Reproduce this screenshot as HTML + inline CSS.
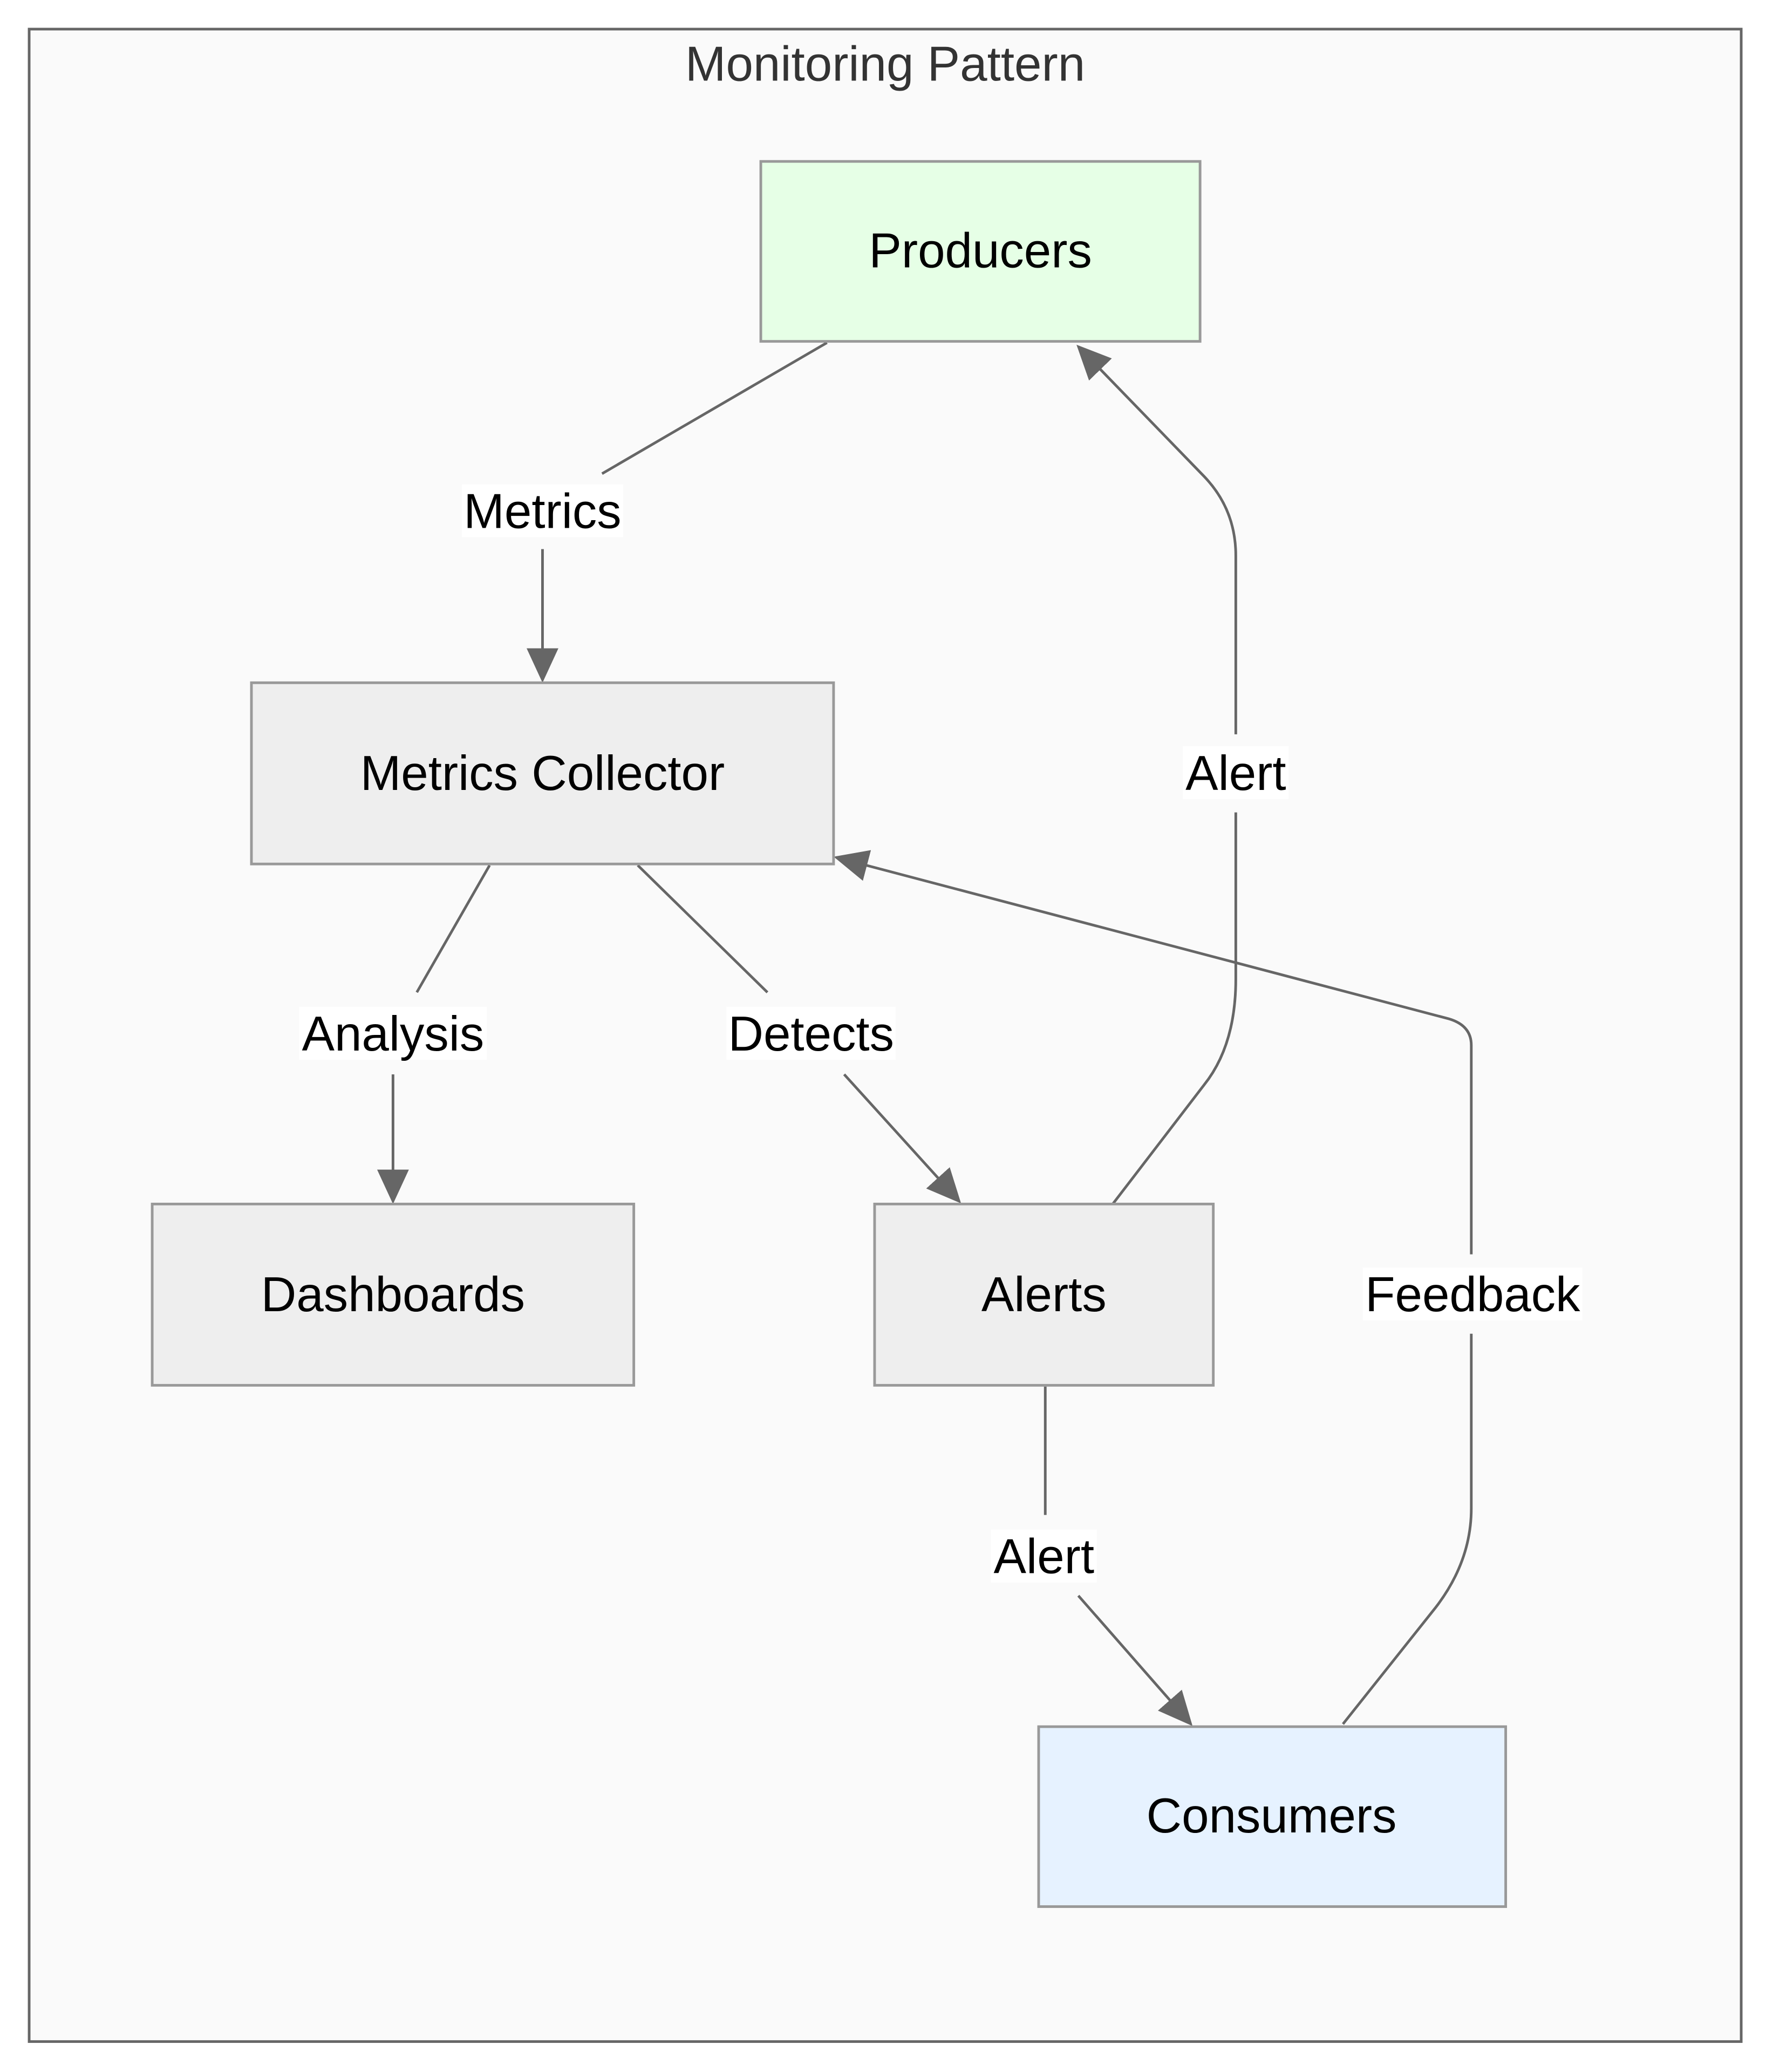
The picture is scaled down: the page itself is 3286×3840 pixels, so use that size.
<!DOCTYPE html>
<html><head><meta charset="utf-8"><style>
html,body{margin:0;padding:0;background:#fff;}
svg{display:block;}
text{font-family:"Liberation Sans",Arial,sans-serif;}
</style></head><body>
<svg width="3286" height="3840" viewBox="0 0 1340 1566" xmlns="http://www.w3.org/2000/svg">
<defs>
<marker id="b" markerWidth="26" markerHeight="26" refX="24" refY="13" orient="auto" markerUnits="userSpaceOnUse" viewBox="0 0 26 26">
<path d="M0,1 L26,13 L0,25 z" fill="#666"/>
</marker>
</defs>
<rect x="22" y="22" width="1294" height="1521" fill="#fafafa" stroke="#666" stroke-width="2"/>
<text x="669" y="61" font-size="37" fill="#333" text-anchor="middle">Monitoring Pattern</text>

<g fill="none" stroke="#666" stroke-width="2">
<path d="M625,259 L455,358"/>
<path d="M410,415 L410,514" marker-end="url(#b)"/>
<path d="M370,654 L315,750"/>
<path d="M297,812 Q297,820 297,830 L297,908" marker-end="url(#b)"/>
<path d="M482,654 L580,750"/>
<path d="M638,812 L725,908" marker-end="url(#b)"/>
<path d="M841,910 L910,820 Q934,790 934,740 L934,614"/>
<path d="M934,555 L934,420 Q934,385 910,360 L815,262" marker-end="url(#b)"/>
<path d="M1015,1303 L1085,1215 Q1112,1180 1112,1140 L1112,1008"/>
<path d="M1112,948 L1112,790 Q1112,775 1095,770 L632,648" marker-end="url(#b)"/>
<path d="M790,1048 L790,1145"/>
<path d="M815,1206 L900,1303" marker-end="url(#b)"/>
</g>

<g stroke="#999" stroke-width="2">
<rect x="575" y="122" width="332" height="136" fill="#e6ffe6"/>
<rect x="190" y="516" width="440" height="137" fill="#eeeeee"/>
<rect x="115" y="910" width="364" height="137" fill="#eeeeee"/>
<rect x="661" y="910" width="256" height="137" fill="#eeeeee"/>
<rect x="785" y="1305" width="353" height="136" fill="#e6f2ff"/>
</g>

<g font-size="37" fill="#000" text-anchor="middle">
<text x="741" y="202">Producers</text>
<text x="410" y="597">Metrics Collector</text>
<text x="297" y="991">Dashboards</text>
<text x="789" y="991">Alerts</text>
<text x="961" y="1385">Consumers</text>
</g>

<g fill="#fff">
<rect x="349" y="366" width="122" height="40"/>
<rect x="226" y="761" width="142" height="40"/>
<rect x="549" y="761" width="128" height="40"/>
<rect x="894" y="564" width="80" height="40"/>
<rect x="1030" y="958" width="166" height="40"/>
<rect x="749" y="1156" width="80" height="40"/>
</g>
<g font-size="37" fill="#000" text-anchor="middle">
<text x="410" y="399">Metrics</text>
<text x="297" y="794">Analysis</text>
<text x="613" y="794">Detects</text>
<text x="934" y="597">Alert</text>
<text x="1113" y="991">Feedback</text>
<text x="789" y="1189">Alert</text>
</g>
</svg>
</body></html>
